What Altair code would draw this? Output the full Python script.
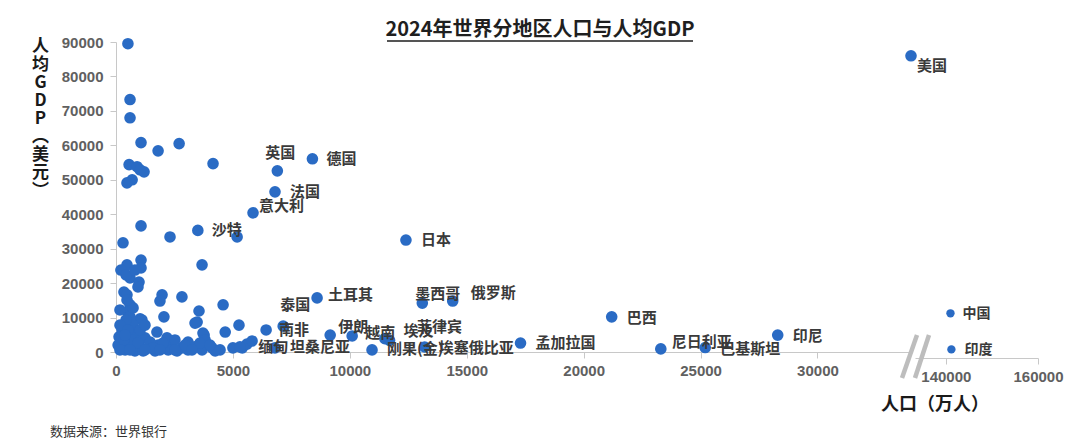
import altair as alt
import pandas as pd

# ---------------- data (population: 万人, GDP per capita: 美元) ----------------
named_country = ["美国", "印尼", "巴基斯坦", "尼日利亚", "巴西", "孟加拉国", "俄罗斯", "墨西哥", "日本",
                 "菲律宾", "埃及", "越南", "刚果(金)", "埃塞俄比亚", "伊朗", "南非", "泰国", "缅甸", "坦桑尼亚",
                 "土耳其", "德国", "英国", "法国", "意大利", "沙特"]
named_pop = [34000, 28300, 25200, 23300, 21200, 17300, 14400, 13100, 12400,
             11500, 11700, 10100, 10950, 13200, 9160, 6420, 7150, 5400, 6800,
             8600, 8400, 6900, 6800, 5860, 3500]
named_gdp = [86000, 4900, 1300, 900, 10200, 2600, 14800, 14200, 32500,
             3900, 3400, 4650, 600, 1450, 4900, 6400, 7500, 1200, 1200,
             15700, 56100, 52600, 46500, 40400, 35300]

big_country = ["中国", "印度"]
big_pop = [141000, 141200]
big_gdp = [13000, 2500]

other_pop = [510, 600, 600, 1070, 2700, 1800, 4150, 560, 900, 1200, 1030, 690, 470,
             1070, 2310, 300, 1070, 1070, 470, 210, 3680, 600, 985, 940, 340, 470,
             1970, 1880, 2820, 4580, 600, 3550, 2050, 1030, 3470, 5260, 4670, 260,
             1750, 130, 3770, 5000, 5600, 2180, 510, 600, 1110, 3380, 730, 3720,
             260, 810, 1240, 3080, 3810, 510, 1030, 1370, 1800, 2400, 2820, 3380,
             4110, 4450, 390, 810, 1160, 1670, 2230, 2610, 3080, 3680, 4240, 5300,
             170, 430, 170, 510, 690, 940, 1460, 90, 340, 1580, 2010, 170, 600,
             1240, 1880, 390, 1030, 1240, 730, 470, 430, 810, 2520, 2950, 3590,
             4020, 3250, 2520, 5820, 5180]
other_gdp = [89500, 73300, 68000, 60800, 60500, 58400, 54700, 54400, 53800, 52300, 52900, 50000, 49100,
             36600, 33400, 31700, 26700, 24400, 25300, 23800, 25300, 21500, 20300, 18900, 17400, 16600,
             16600, 14800, 16000, 13700, 13700, 11900, 10200, 9600, 8700, 7800, 5800, 6400,
             5800, 4400, 4900, 1200, 2300, 4100, 11600, 10200, 9300, 8400, 7800, 5500,
             4400, 4900, 4100, 2900, 3500, 2000, 1500, 1200, 2000, 1500, 1200, 1500,
             1200, 600, 600, 300, 300, 300, 600, 300, 600, 600, 300, 1500,
             12200, 9300, 7800, 6400, 3500, 2600, 2900, 2000, 3500, 1200, 2600, 600, 600,
             600, 600, 4900, 6400, 7800, 12800, 15100, 22400, 23800, 3500, 2000, 2600,
             2000, 600, 600, 3200, 33400]

# label nudges in pixels (style only)
LABEL_NUDGE = {
    "美国": (6, 10), "印尼": (15, 1), "巴基斯坦": (15, 1), "尼日利亚": (11, -7), "巴西": (15, 1),
    "孟加拉国": (15, 0), "俄罗斯": (18, -8), "墨西哥": (-7, -9), "日本": (15, 0),
    "菲律宾": (32, -12), "埃及": (14, -9), "越南": (13, -3), "刚果(金)": (15, -1),
    "埃塞俄比亚": (14, 1), "伊朗": (8, -8), "南非": (13, 0), "泰国": (-3, -21),
    "缅甸": (16, -1), "坦桑尼亚": (15, -1), "土耳其": (11, -3), "德国": (14, 0),
    "英国": (-12, -18), "法国": (15, 0), "意大利": (6, -7), "沙特": (14, 0),
    "中国": (12, 1), "印度": (13, 1),
}

BLUE = "#2A6BC4"
CJK = "Noto Sans CJK SC"
LABEL_COLOR = "#3a3a3a"

main_df = pd.DataFrame({
    "name": named_country + [""] * len(other_pop),
    "pop": named_pop + other_pop,
    "gdp": named_gdp + other_gdp,
})
big_df = pd.DataFrame({"name": big_country, "pop": big_pop, "gdp": big_gdp})
one = pd.DataFrame({"k": [0]})

W_LEFT, H_LEFT = 795, 310
W_RIGHT, H_RIGHT = 123, 316

AXIS_STYLE = dict(grid=False, domainColor="#c8c8c8", tickColor="#c8c8c8", tickSize=6,
                  labelFont="Liberation Sans", labelFontSize=15, labelFontWeight="bold",
                  labelColor="#606060", labelOverlap=False, labelFlush=False)

x_left = alt.X("pop:Q", scale=alt.Scale(domain=[0, 34000], nice=False, zero=False),
               axis=alt.Axis(values=[0, 5000, 10000, 15000, 20000, 25000, 30000], title=None,
                             labelPadding=5, format="d", **AXIS_STYLE))
y_left = alt.Y("gdp:Q", scale=alt.Scale(domain=[0, 90000], nice=False),
               axis=alt.Axis(values=list(range(0, 90001, 10000)), format="d", labelPadding=7,
                             title=["人", "均", "G", "D", "P", "︵", "美", "元", "︶"],
                             titleAngle=0, titleX=-76, titleY=-4, titleAlign="center",
                             titleBaseline="top", titleFontSize=17, titleFontWeight="bold",
                             titleColor="#1a1a1a", titleFont=CJK, titleLineHeight=18,
                             **AXIS_STYLE))

left_points = alt.Chart(main_df).mark_circle(size=135, color=BLUE, opacity=1).encode(x=x_left, y=y_left)

left_layers = [left_points]
for name in named_country:
    dx, dy = LABEL_NUDGE[name]
    left_layers.append(
        alt.Chart(main_df).transform_filter(alt.datum.name == name)
        .mark_text(align="left", baseline="middle", dx=dx, dy=dy, font=CJK, fontSize=15,
                   fontWeight="bold", color=LABEL_COLOR)
        .encode(x=x_left, y=y_left, text="name:N")
    )

title_txt = alt.Chart(one).mark_text(align="center", baseline="alphabetic", font=CJK, fontSize=20,
                                     fontWeight="bold", color="#1f1f1f").encode(
    x=alt.value(424), y=alt.value(-6), text=alt.value("2024年世界分地区人口与人均GDP"))
title_line = alt.Chart(one).mark_rule(color="#555555", strokeWidth=1.8).encode(
    x=alt.value(271), x2=alt.value(577), y=alt.value(-1))
footer = alt.Chart(one).mark_text(align="left", baseline="middle", font=CJK, fontSize=13,
                                  color="#333333").encode(
    x=alt.value(-66), y=alt.value(390), text=alt.value("数据来源：世界银行"))
left_layers += [title_txt, title_line, footer]

left = alt.layer(*left_layers).properties(width=W_LEFT, height=H_LEFT)

# ---------------- right (broken axis) panel ----------------
x_right = alt.X("pop:Q", scale=alt.Scale(domain=[133300, 160000], nice=False, zero=False),
                axis=alt.Axis(values=[140000, 160000], title=None, labelPadding=5, format="d",
                              **AXIS_STYLE))
y_right = alt.Y("gdp:Q", scale=alt.Scale(domain=[0, 91935], nice=False), axis=None)

right_points = alt.Chart(big_df).mark_circle(size=70, color=BLUE, opacity=1).encode(x=x_right, y=y_right)
right_layers = [right_points]
for name in big_country:
    dx, dy = LABEL_NUDGE[name]
    right_layers.append(
        alt.Chart(big_df).transform_filter(alt.datum.name == name)
        .mark_text(align="left", baseline="middle", dx=dx, dy=dy, font=CJK, fontSize=14,
                   fontWeight="bold", color=LABEL_COLOR)
        .encode(x=x_right, y=y_right, text="name:N")
    )
break1 = alt.Chart(one).mark_rule(color="#bdbdbd", strokeWidth=4.5).encode(
    x=alt.value(2), x2=alt.value(-13), y=alt.value(293), y2=alt.value(336))
break2 = alt.Chart(one).mark_rule(color="#bdbdbd", strokeWidth=4.5).encode(
    x=alt.value(14), x2=alt.value(0), y=alt.value(293), y2=alt.value(336))
x_title = alt.Chart(one).mark_text(align="center", baseline="middle", font=CJK, fontSize=18,
                                   fontWeight="bold", color="#1a1a1a").encode(
    x=alt.value(20), y=alt.value(363), text=alt.value("人口（万人）"))
right_layers += [break1, break2, x_title]

right = alt.layer(*right_layers).properties(width=W_RIGHT, height=H_RIGHT)

chart = alt.hconcat(left, right, spacing=4, bounds="flush").properties(
    padding={"left": 23, "top": 12, "right": 5, "bottom": 5},
    background="white",
).configure_view(stroke=None).configure_axis(grid=False)

chart.save("out.html", embed_options={"renderer": "svg", "actions": False})
